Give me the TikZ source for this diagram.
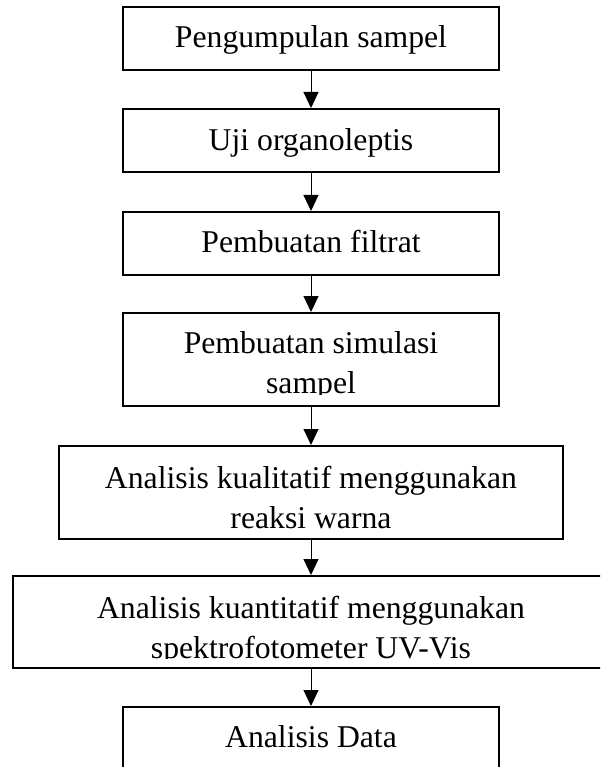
\documentclass[tikz,border=0pt]{standalone}
\usepackage{fontspec}
\setmainfont{Liberation Serif}
\usetikzlibrary{arrows.meta}
\begin{document}
\begin{tikzpicture}[x=1pt,y=-1pt,
  box/.style={draw=black,line width=2pt,rectangle,inner sep=0pt,outer sep=0pt,fill=white},
  txt/.style={anchor=base,inner sep=0pt,outer sep=0pt,font=\fontsize{31.7}{40}\selectfont},
  arr/.style={draw=black,line width=1pt,-{Triangle[length=16pt,width=15pt]},shorten >=1pt}]
\useasboundingbox (0,0) rectangle (600,767);
\clip (0,0) rectangle (600,767);
% boxes
\node[box,minimum width=376pt,minimum height=63pt] (b1) at (311,38.5) {};
\node[box,minimum width=376pt,minimum height=63pt] (b2) at (311,140.5) {};
\node[box,minimum width=376pt,minimum height=63pt] (b3) at (311,243.5) {};
\node[box,minimum width=376pt,minimum height=93pt] (b4) at (311,359.5) {};
\node[box,minimum width=504pt,minimum height=93pt] (b5) at (311,492.5) {};
\node[box,minimum width=596pt,minimum height=92pt] (b6) at (311,622) {};
\node[box,minimum width=376pt,minimum height=93pt] (b7) at (311,753.5) {};
% texts
\node[txt] (t1) at (311,48) {Pengumpulan sampel};
\node[txt] (t2) at (311,151) {Uji organoleptis};
\node[txt] (t3) at (311,252) {Pembuatan filtrat};
\node[txt] (t4a) at (311,353) {Pembuatan simulasi};
\begin{scope}
  \clip (130,360) rectangle (492,394);
  \node[txt] (t4b) at (311,393) {sampel};
\end{scope}
\node[txt] (t5a) at (311,488) {Analisis kualitatif menggunakan};
\node[txt] (t5b) at (311,528) {reaksi warna};
\node[txt] (t6a) at (311,618) {Analisis kuantitatif menggunakan};
\begin{scope}
  \clip (20,625) rectangle (598,658.5);
  \node[txt] (t6b) at (311,658) {spektrofotometer UV-Vis};
\end{scope}
\node[txt] (t7) at (311,747) {Analisis Data};
% arrows
\draw[arr] (b1.south) -- (b2.north);
\draw[arr] (b2.south) -- (b3.north);
\draw[arr] (b3.south) -- (b4.north);
\draw[arr] (b4.south) -- (b5.north);
\draw[arr] (b5.south) -- (b6.north);
\draw[arr] (b6.south) -- (b7.north);
\end{tikzpicture}
\end{document}
